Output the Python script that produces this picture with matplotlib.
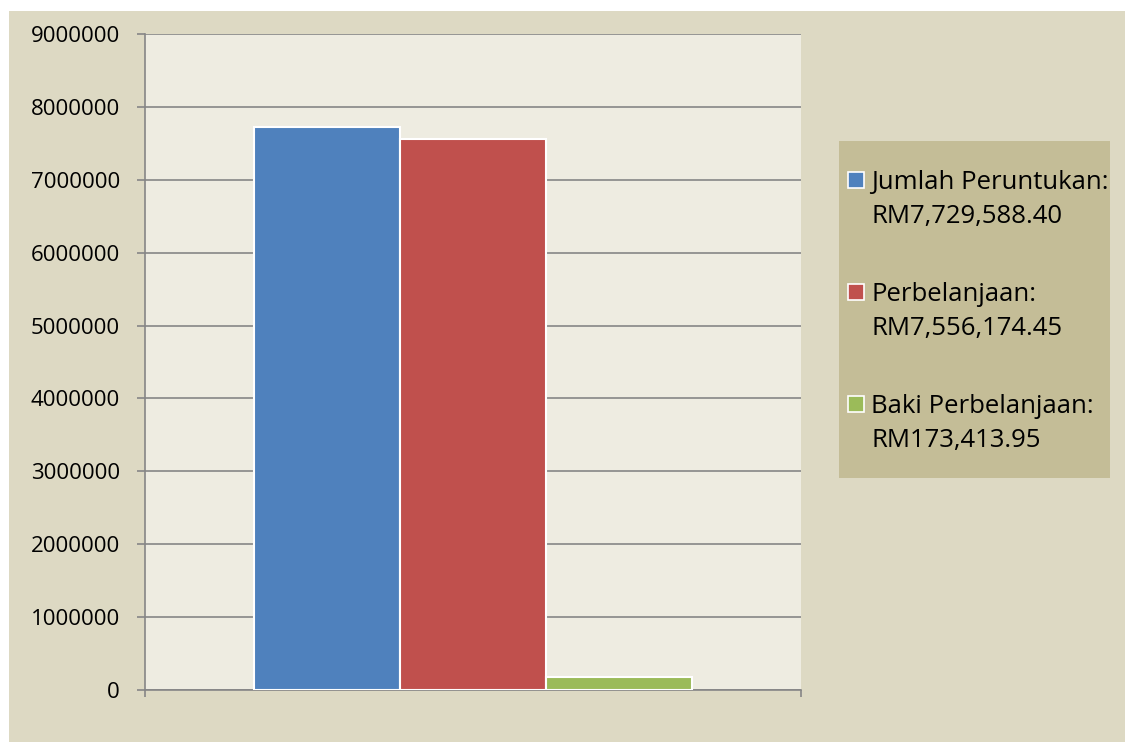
import matplotlib
matplotlib.use('Agg')
import matplotlib.pyplot as plt
from matplotlib.patches import Rectangle

series = ['Jumlah Peruntukan:', 'Perbelanjaan:', 'Baki Perbelanjaan:']
values = [7729588.40, 7556174.45, 173413.95]
value_labels = ['RM7,729,588.40', 'RM7,556,174.45', 'RM173,413.95']
colors = ['#4F81BD', '#C0504D', '#9BBB59']
yticks = [0, 1000000, 2000000, 3000000, 4000000, 5000000, 6000000, 7000000, 8000000, 9000000]

W, H = 1125, 742
FONT = 'Open Sans'
FS = 16
LFS = 18.5

plt.rcParams['font.family'] = [FONT, 'DejaVu Sans']

fig = plt.figure(figsize=(W / 100, H / 100), dpi=100, facecolor='white')

def fx(px):
    return px / W

def fy(py):
    return 1 - py / H

# chart area background
fig.patches.append(Rectangle((fx(9), 0), 1, fy(11), transform=fig.transFigure,
                             facecolor='#DDD9C3', edgecolor='none', zorder=-10))

ax = fig.add_axes([fx(145), fy(690), fx(801) - fx(145), fy(34) - fy(690)])
ax.set_zorder(5)
ax.set_facecolor('#EEECE1')

bw = 146 / 656
for i, (v, c) in enumerate(zip(values, colors)):
    ax.bar((i - 1) * bw, v, width=bw, color=c, edgecolor='white', linewidth=1.5, zorder=3)

ax.set_xlim(-0.5, 0.5)
ax.set_ylim(0, 9000000)
ax.set_yticks(yticks)
ax.set_yticklabels([str(t) for t in yticks], fontsize=FS)
ax.set_xticks([-0.5, 0.5])
ax.set_xticklabels(['', ''])
ax.yaxis.grid(True, color='#868686', linewidth=1.2, zorder=1)
ax.set_axisbelow(True)
for s in ['top', 'right']:
    ax.spines[s].set_visible(False)
for s in ['left', 'bottom']:
    ax.spines[s].set_color('#868686')
    ax.spines[s].set_linewidth(1.2)
ax.tick_params(axis='y', length=6, width=1.2, color='#868686', pad=12, labelcolor='black')
ax.tick_params(axis='x', length=5, width=1.2, color='#868686')

# legend box
fig.patches.append(Rectangle((fx(839), fy(478)), fx(1110) - fx(839), fy(141) - fy(478),
                             transform=fig.transFigure, facecolor='#C4BD97',
                             edgecolor='none', zorder=1))
for i, (lab, vl, c) in enumerate(zip(series, value_labels, colors)):
    base = 189 + i * 112
    fig.patches.append(Rectangle((fx(848), fy(base - 1)), fx(16), 16 / H,
                                 transform=fig.transFigure, facecolor=c,
                                 edgecolor='white', linewidth=1.2, zorder=2))
    fig.text(fx(871), fy(base), lab, fontsize=LFS, va='baseline', ha='left', color='black')
    fig.text(fx(871), fy(base + 34), vl, fontsize=LFS, va='baseline', ha='left', color='black')

fig.savefig('out.png', dpi=100, facecolor=fig.get_facecolor())
